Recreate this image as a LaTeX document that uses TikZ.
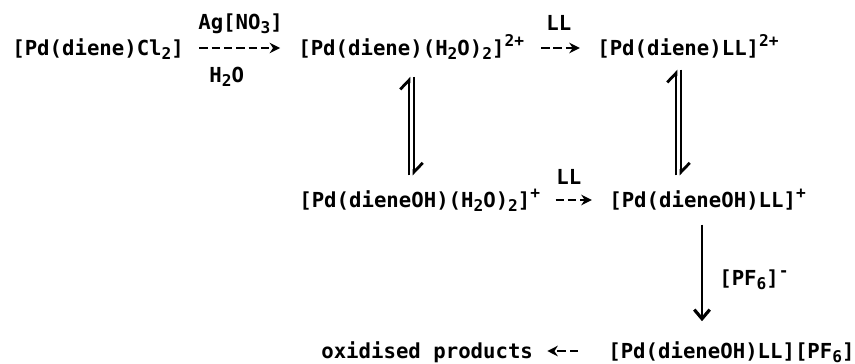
\documentclass[tikz,border=0pt]{standalone}
\usepackage{fontspec}
\setmainfont{DejaVu Sans Mono}
\usetikzlibrary{arrows.meta,positioning}
\tikzset{every picture/.style={line width=0.75pt}}
\tikzset{
    chem/.style={inner sep=0pt, text height=5.5pt, text depth=1.5pt, font=\fontsize{5.88pt}{7pt}\bfseries\selectfont, anchor=west},
    rxn/.style={-{Stealth[length=3pt,width=3pt]}, line width=0.55pt},
    rxndash/.style={rxn, dash pattern=on 2.4pt off 1.1pt},
    eqhalf/.style={-{Straight Barb[left,length=2.6pt,width=5pt,line width=0.8pt]}, line width=0.6pt},
    rxnlong/.style={-{Straight Barb[length=2.6pt,width=4.4pt,line width=0.9pt]}, line width=0.6pt},
}
\newcommand{\chemdn}[1]{\raisebox{-1.3pt}{\fontsize{4.6pt}{5pt}\bfseries\selectfont #1}}
\newcommand{\chemup}[1]{\raisebox{2.4pt}{\fontsize{4.6pt}{5pt}\bfseries\selectfont #1}}

\begin{document}
\begin{tikzpicture}[x=0.01cm,y=-0.01cm]
    \useasboundingbox (0,0) rectangle (855,363);

    % top row
    \node[chem] (dienecl) at (11,48) {[Pd(diene)Cl\chemdn{2}]};
    \node[chem] (dieneaq) at (297,48) {[Pd(diene)(H\chemdn{2}O)\chemdn{2}]\chemup{2+}};
    \node[chem] (dienell) at (596,48) {[Pd(diene)LL]\chemup{2+}};

    % middle row
    \node[chem] (dieneohaq) at (298,200) {[Pd(dieneOH)(H\chemdn{2}O)\chemdn{2}]\chemup{+}};
    \node[chem] (dieneohll) at (608,200) {[Pd(dieneOH)LL]\chemup{+}};

    % bottom row
    \node[chem] (products) at (320,351) {oxidised products};
    \node[chem] (dieneohpf) at (607,351) {[Pd(dieneOH)LL][PF\chemdn{6}]};

    % labels on the arrows
    \node[chem] (agno) at (197,22) {Ag[NO\chemdn{3}]};
    \node[chem] (water) at (208,75) {H\chemdn{2}O};
    \node[chem] (lltop) at (545,23) {LL};
    \node[chem] (llmid) at (555,177) {LL};
    \node[chem] (pfsix) at (718,278) {[PF\chemdn{6}]\chemup{-}};

    % horizontal arrows
    \draw[rxndash, shorten <=4pt, shorten >=4.8pt] (dienecl.east) -- (dieneaq.west);
    \draw[rxndash, shorten <=4.5pt, shorten >=4.6pt] (dieneaq.east) -- (dienell.west);
    \draw[rxndash, shorten <=4pt, shorten >=4.6pt] (dieneohaq.east) -- (dieneohll.west);
    \draw[rxndash, shorten <=8.2pt, shorten >=3.7pt] (dieneohpf.west) -- (products.east);

    % equilibria
    \draw[eqhalf, shorten <=3.1pt, shorten >=4.3pt] (dieneohaq.north -| 409,0) -- (dieneaq.south -| 409,0);
    \draw[eqhalf, shorten <=4.3pt, shorten >=3.1pt] (dieneaq.south -| 414,0) -- (dieneohaq.north -| 414,0);
    \draw[eqhalf, shorten <=3.1pt, shorten >=2.3pt] (dieneohll.north -| 676,0) -- (dienell.south -| 676,0);
    \draw[eqhalf, shorten <=2.3pt, shorten >=3.1pt] (dienell.south -| 681,0) -- (dieneohll.north -| 681,0);

    % anion step
    \draw[rxnlong, shorten <=3.1pt, shorten >=4.6pt] (dieneohll.south -| 702,0) -- (dieneohpf.north -| 702,0);
\end{tikzpicture}
\end{document}
